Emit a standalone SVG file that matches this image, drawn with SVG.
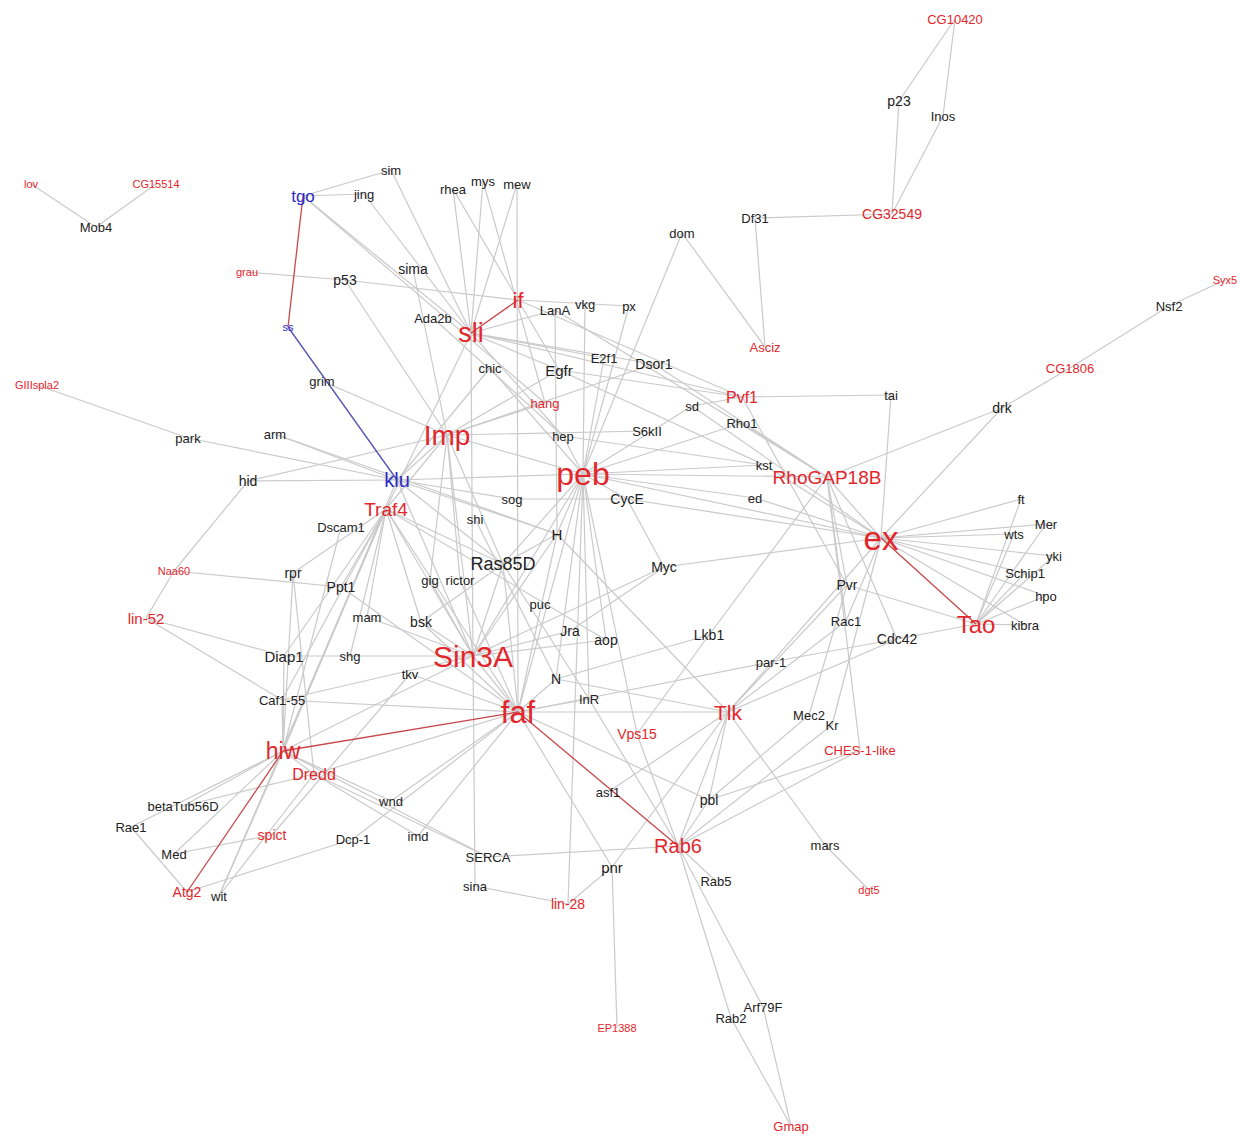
<svg xmlns="http://www.w3.org/2000/svg" width="1240" height="1136" viewBox="0 0 1240 1136">
<style>
.e{stroke:#cacaca;stroke-width:1.2;fill:none}
.er{stroke:#c8474a;stroke-width:1.3;fill:none}
.eb{stroke:#5353b0;stroke-width:1.3;fill:none}
text{font-family:"Liberation Sans",Arial,sans-serif;text-anchor:middle;dominant-baseline:central}
.k{fill:#222}.r{fill:#e3262b}.b{fill:#2a2ac6}
.f11{font-size:11px}.f13{font-size:13px}.f14{font-size:14px}.f15{font-size:15px}.f16{font-size:16px}.f17{font-size:17px}.f18{font-size:18px}.f19{font-size:19px}.f20{font-size:20px}.f21{font-size:21px}.f22{font-size:22px}.f23{font-size:23px}.f24{font-size:24px}.f27{font-size:27px}.f28{font-size:28px}.f30{font-size:30px}.f31{font-size:31px}.f32{font-size:32px}.f33{font-size:33px}
</style>
<rect width="1240" height="1136" fill="#fff"/>
<g id="edges">
<line class="e" x1="955" y1="19" x2="899" y2="101"/>
<line class="e" x1="955" y1="19" x2="943" y2="116"/>
<line class="e" x1="899" y1="101" x2="892" y2="214"/>
<line class="e" x1="943" y1="116" x2="892" y2="214"/>
<line class="e" x1="892" y1="214" x2="755" y2="218"/>
<line class="e" x1="755" y1="218" x2="765" y2="347"/>
<line class="e" x1="682" y1="233" x2="765" y2="347"/>
<line class="e" x1="682" y1="233" x2="583" y2="474"/>
<line class="e" x1="1225" y1="280" x2="1169" y2="306"/>
<line class="e" x1="1169" y1="306" x2="1070" y2="368"/>
<line class="e" x1="1070" y1="368" x2="1002" y2="408"/>
<line class="e" x1="1002" y1="408" x2="827" y2="477"/>
<line class="e" x1="1002" y1="408" x2="881" y2="538"/>
<line class="e" x1="891" y1="395" x2="742" y2="397"/>
<line class="e" x1="891" y1="395" x2="881" y2="538"/>
<line class="e" x1="31" y1="184" x2="96" y2="227"/>
<line class="e" x1="156" y1="184" x2="96" y2="227"/>
<line class="e" x1="303" y1="196" x2="391" y2="170"/>
<line class="e" x1="303" y1="196" x2="364" y2="194"/>
<line class="e" x1="303" y1="196" x2="471" y2="333"/>
<line class="e" x1="303" y1="196" x2="545" y2="403"/>
<line class="e" x1="391" y1="170" x2="471" y2="333"/>
<line class="e" x1="364" y1="194" x2="471" y2="333"/>
<line class="e" x1="247" y1="272" x2="345" y2="280"/>
<line class="e" x1="345" y1="280" x2="518" y2="300"/>
<line class="e" x1="518" y1="300" x2="629" y2="306"/>
<line class="e" x1="345" y1="280" x2="447" y2="435"/>
<line class="e" x1="413" y1="269" x2="447" y2="435"/>
<line class="e" x1="453" y1="189" x2="471" y2="333"/>
<line class="e" x1="453" y1="189" x2="559" y2="370"/>
<line class="e" x1="483" y1="181" x2="471" y2="333"/>
<line class="e" x1="483" y1="181" x2="545" y2="403"/>
<line class="e" x1="517" y1="184" x2="471" y2="333"/>
<line class="e" x1="517" y1="184" x2="518" y2="712"/>
<line class="e" x1="433" y1="318" x2="563" y2="436"/>
<line class="e" x1="518" y1="300" x2="742" y2="397"/>
<line class="e" x1="555" y1="310" x2="471" y2="333"/>
<line class="e" x1="555" y1="310" x2="827" y2="477"/>
<line class="e" x1="555" y1="310" x2="557" y2="534"/>
<line class="e" x1="585" y1="304" x2="583" y2="474"/>
<line class="e" x1="629" y1="306" x2="583" y2="474"/>
<line class="e" x1="471" y1="333" x2="559" y2="370"/>
<line class="e" x1="471" y1="333" x2="604" y2="358"/>
<line class="e" x1="471" y1="333" x2="742" y2="397"/>
<line class="e" x1="471" y1="333" x2="386" y2="509"/>
<line class="e" x1="471" y1="333" x2="473" y2="656"/>
<line class="e" x1="471" y1="333" x2="563" y2="436"/>
<line class="e" x1="471" y1="333" x2="654" y2="364"/>
<line class="e" x1="490" y1="368" x2="397" y2="480"/>
<line class="e" x1="490" y1="368" x2="583" y2="474"/>
<line class="e" x1="559" y1="370" x2="447" y2="435"/>
<line class="e" x1="559" y1="370" x2="742" y2="397"/>
<line class="e" x1="559" y1="370" x2="764" y2="465"/>
<line class="e" x1="604" y1="358" x2="583" y2="474"/>
<line class="e" x1="654" y1="364" x2="827" y2="477"/>
<line class="e" x1="654" y1="364" x2="447" y2="435"/>
<line class="e" x1="742" y1="397" x2="692" y2="406"/>
<line class="e" x1="742" y1="397" x2="847" y2="585"/>
<line class="e" x1="692" y1="406" x2="583" y2="474"/>
<line class="e" x1="692" y1="406" x2="881" y2="538"/>
<line class="e" x1="742" y1="423" x2="583" y2="474"/>
<line class="e" x1="742" y1="423" x2="827" y2="477"/>
<line class="e" x1="647" y1="431" x2="447" y2="435"/>
<line class="e" x1="447" y1="435" x2="545" y2="403"/>
<line class="e" x1="563" y1="436" x2="583" y2="474"/>
<line class="e" x1="563" y1="436" x2="764" y2="465"/>
<line class="e" x1="322" y1="381" x2="447" y2="435"/>
<line class="e" x1="37" y1="385" x2="188" y2="438"/>
<line class="e" x1="188" y1="438" x2="397" y2="480"/>
<line class="e" x1="275" y1="434" x2="397" y2="480"/>
<line class="e" x1="275" y1="434" x2="557" y2="534"/>
<line class="e" x1="248" y1="481" x2="397" y2="480"/>
<line class="e" x1="248" y1="481" x2="447" y2="435"/>
<line class="e" x1="248" y1="481" x2="174" y2="571"/>
<line class="e" x1="174" y1="571" x2="146" y2="618"/>
<line class="e" x1="174" y1="571" x2="341" y2="587"/>
<line class="e" x1="397" y1="480" x2="447" y2="435"/>
<line class="e" x1="397" y1="480" x2="583" y2="474"/>
<line class="e" x1="397" y1="480" x2="512" y2="499"/>
<line class="e" x1="397" y1="480" x2="503" y2="564"/>
<line class="e" x1="397" y1="480" x2="473" y2="656"/>
<line class="e" x1="397" y1="480" x2="283" y2="751"/>
<line class="e" x1="397" y1="480" x2="557" y2="534"/>
<line class="e" x1="447" y1="435" x2="583" y2="474"/>
<line class="e" x1="447" y1="435" x2="386" y2="509"/>
<line class="e" x1="447" y1="435" x2="473" y2="656"/>
<line class="e" x1="447" y1="435" x2="430" y2="580"/>
<line class="e" x1="447" y1="435" x2="460" y2="580"/>
<line class="e" x1="447" y1="435" x2="503" y2="564"/>
<line class="e" x1="583" y1="474" x2="764" y2="465"/>
<line class="e" x1="583" y1="474" x2="827" y2="477"/>
<line class="e" x1="583" y1="474" x2="881" y2="538"/>
<line class="e" x1="583" y1="474" x2="627" y2="499"/>
<line class="e" x1="583" y1="474" x2="557" y2="534"/>
<line class="e" x1="583" y1="474" x2="473" y2="656"/>
<line class="e" x1="583" y1="474" x2="518" y2="712"/>
<line class="e" x1="583" y1="474" x2="556" y2="679"/>
<line class="e" x1="583" y1="474" x2="568" y2="904"/>
<line class="e" x1="583" y1="474" x2="503" y2="564"/>
<line class="e" x1="583" y1="474" x2="589" y2="699"/>
<line class="e" x1="583" y1="474" x2="606" y2="640"/>
<line class="e" x1="755" y1="498" x2="881" y2="538"/>
<line class="e" x1="755" y1="498" x2="583" y2="474"/>
<line class="e" x1="627" y1="499" x2="881" y2="538"/>
<line class="e" x1="627" y1="499" x2="664" y2="567"/>
<line class="e" x1="512" y1="499" x2="627" y2="499"/>
<line class="e" x1="764" y1="465" x2="881" y2="538"/>
<line class="e" x1="827" y1="477" x2="881" y2="538"/>
<line class="e" x1="827" y1="477" x2="709" y2="635"/>
<line class="e" x1="827" y1="477" x2="847" y2="585"/>
<line class="e" x1="827" y1="477" x2="846" y2="621"/>
<line class="e" x1="827" y1="477" x2="897" y2="639"/>
<line class="e" x1="827" y1="477" x2="860" y2="750"/>
<line class="e" x1="881" y1="538" x2="1021" y2="499"/>
<line class="e" x1="881" y1="538" x2="1046" y2="524"/>
<line class="e" x1="881" y1="538" x2="1014" y2="534"/>
<line class="e" x1="881" y1="538" x2="1054" y2="556"/>
<line class="e" x1="881" y1="538" x2="1025" y2="573"/>
<line class="e" x1="881" y1="538" x2="1046" y2="596"/>
<line class="e" x1="881" y1="538" x2="1025" y2="625"/>
<line class="e" x1="976" y1="624" x2="1021" y2="499"/>
<line class="e" x1="976" y1="624" x2="1046" y2="524"/>
<line class="e" x1="976" y1="624" x2="1014" y2="534"/>
<line class="e" x1="976" y1="624" x2="1054" y2="556"/>
<line class="e" x1="976" y1="624" x2="1025" y2="573"/>
<line class="e" x1="976" y1="624" x2="1046" y2="596"/>
<line class="e" x1="976" y1="624" x2="1025" y2="625"/>
<line class="e" x1="881" y1="538" x2="664" y2="567"/>
<line class="e" x1="881" y1="538" x2="846" y2="621"/>
<line class="e" x1="881" y1="538" x2="728" y2="712"/>
<line class="e" x1="881" y1="538" x2="832" y2="725"/>
<line class="e" x1="847" y1="585" x2="976" y2="624"/>
<line class="e" x1="897" y1="639" x2="976" y2="624"/>
<line class="e" x1="847" y1="585" x2="728" y2="712"/>
<line class="e" x1="846" y1="621" x2="728" y2="712"/>
<line class="e" x1="897" y1="639" x2="728" y2="712"/>
<line class="e" x1="518" y1="712" x2="771" y2="662"/>
<line class="e" x1="771" y1="662" x2="897" y2="639"/>
<line class="e" x1="809" y1="715" x2="847" y2="585"/>
<line class="e" x1="809" y1="715" x2="709" y2="800"/>
<line class="e" x1="832" y1="725" x2="678" y2="846"/>
<line class="e" x1="860" y1="750" x2="709" y2="800"/>
<line class="e" x1="386" y1="509" x2="341" y2="587"/>
<line class="e" x1="386" y1="509" x2="367" y2="617"/>
<line class="e" x1="386" y1="509" x2="350" y2="656"/>
<line class="e" x1="386" y1="509" x2="421" y2="622"/>
<line class="e" x1="386" y1="509" x2="284" y2="656"/>
<line class="e" x1="386" y1="509" x2="282" y2="700"/>
<line class="e" x1="386" y1="509" x2="283" y2="751"/>
<line class="e" x1="386" y1="509" x2="473" y2="656"/>
<line class="e" x1="386" y1="509" x2="518" y2="712"/>
<line class="e" x1="386" y1="509" x2="293" y2="573"/>
<line class="e" x1="386" y1="509" x2="503" y2="564"/>
<line class="e" x1="386" y1="509" x2="606" y2="640"/>
<line class="e" x1="341" y1="527" x2="283" y2="751"/>
<line class="e" x1="293" y1="573" x2="314" y2="774"/>
<line class="e" x1="341" y1="587" x2="518" y2="712"/>
<line class="e" x1="367" y1="617" x2="473" y2="656"/>
<line class="e" x1="284" y1="656" x2="473" y2="656"/>
<line class="e" x1="421" y1="622" x2="518" y2="712"/>
<line class="e" x1="421" y1="622" x2="503" y2="564"/>
<line class="e" x1="430" y1="580" x2="473" y2="656"/>
<line class="e" x1="460" y1="580" x2="518" y2="712"/>
<line class="e" x1="503" y1="564" x2="473" y2="656"/>
<line class="e" x1="503" y1="564" x2="518" y2="712"/>
<line class="e" x1="503" y1="564" x2="557" y2="534"/>
<line class="e" x1="503" y1="564" x2="589" y2="699"/>
<line class="e" x1="557" y1="534" x2="473" y2="656"/>
<line class="e" x1="557" y1="534" x2="728" y2="712"/>
<line class="e" x1="557" y1="534" x2="518" y2="712"/>
<line class="e" x1="475" y1="519" x2="556" y2="679"/>
<line class="e" x1="570" y1="631" x2="473" y2="656"/>
<line class="e" x1="570" y1="631" x2="664" y2="567"/>
<line class="e" x1="606" y1="640" x2="473" y2="656"/>
<line class="e" x1="556" y1="679" x2="518" y2="712"/>
<line class="e" x1="556" y1="679" x2="728" y2="712"/>
<line class="e" x1="556" y1="679" x2="709" y2="635"/>
<line class="e" x1="589" y1="699" x2="518" y2="712"/>
<line class="e" x1="589" y1="699" x2="678" y2="846"/>
<line class="e" x1="518" y1="712" x2="473" y2="656"/>
<line class="e" x1="518" y1="712" x2="728" y2="712"/>
<line class="e" x1="518" y1="712" x2="391" y2="801"/>
<line class="e" x1="518" y1="712" x2="418" y2="836"/>
<line class="e" x1="518" y1="712" x2="353" y2="839"/>
<line class="e" x1="518" y1="712" x2="314" y2="774"/>
<line class="e" x1="518" y1="712" x2="612" y2="867"/>
<line class="e" x1="518" y1="712" x2="709" y2="800"/>
<line class="e" x1="518" y1="712" x2="282" y2="700"/>
<line class="e" x1="518" y1="712" x2="410" y2="674"/>
<line class="e" x1="473" y1="656" x2="283" y2="751"/>
<line class="e" x1="473" y1="656" x2="282" y2="700"/>
<line class="e" x1="473" y1="656" x2="475" y2="886"/>
<line class="e" x1="473" y1="656" x2="421" y2="622"/>
<line class="e" x1="473" y1="656" x2="664" y2="567"/>
<line class="e" x1="709" y1="635" x2="637" y2="734"/>
<line class="e" x1="728" y1="712" x2="825" y2="845"/>
<line class="e" x1="825" y1="845" x2="869" y2="890"/>
<line class="e" x1="728" y1="712" x2="608" y2="792"/>
<line class="e" x1="728" y1="712" x2="709" y2="800"/>
<line class="e" x1="728" y1="712" x2="612" y2="867"/>
<line class="e" x1="728" y1="712" x2="678" y2="846"/>
<line class="e" x1="637" y1="734" x2="678" y2="846"/>
<line class="e" x1="637" y1="734" x2="583" y2="474"/>
<line class="e" x1="678" y1="846" x2="488" y2="857"/>
<line class="e" x1="678" y1="846" x2="716" y2="881"/>
<line class="e" x1="678" y1="846" x2="731" y2="1018"/>
<line class="e" x1="678" y1="846" x2="763" y2="1007"/>
<line class="e" x1="678" y1="846" x2="709" y2="800"/>
<line class="e" x1="678" y1="846" x2="860" y2="750"/>
<line class="e" x1="731" y1="1018" x2="791" y2="1126"/>
<line class="e" x1="763" y1="1007" x2="791" y2="1126"/>
<line class="e" x1="612" y1="867" x2="617" y2="1028"/>
<line class="e" x1="612" y1="867" x2="568" y2="904"/>
<line class="e" x1="475" y1="886" x2="568" y2="904"/>
<line class="e" x1="283" y1="751" x2="183" y2="806"/>
<line class="e" x1="283" y1="751" x2="131" y2="827"/>
<line class="e" x1="283" y1="751" x2="174" y2="854"/>
<line class="e" x1="283" y1="751" x2="219" y2="896"/>
<line class="e" x1="283" y1="751" x2="314" y2="774"/>
<line class="e" x1="283" y1="751" x2="391" y2="801"/>
<line class="e" x1="283" y1="751" x2="282" y2="700"/>
<line class="e" x1="283" y1="751" x2="284" y2="656"/>
<line class="e" x1="283" y1="751" x2="293" y2="573"/>
<line class="e" x1="283" y1="751" x2="488" y2="857"/>
<line class="e" x1="314" y1="774" x2="183" y2="806"/>
<line class="e" x1="314" y1="774" x2="418" y2="836"/>
<line class="e" x1="314" y1="774" x2="488" y2="857"/>
<line class="e" x1="131" y1="827" x2="187" y2="892"/>
<line class="e" x1="187" y1="892" x2="353" y2="839"/>
<line class="e" x1="174" y1="854" x2="272" y2="835"/>
<line class="e" x1="272" y1="835" x2="410" y2="674"/>
<line class="e" x1="219" y1="896" x2="314" y2="774"/>
<line class="e" x1="219" y1="896" x2="386" y2="509"/>
<line class="e" x1="146" y1="618" x2="284" y2="656"/>
<line class="e" x1="146" y1="618" x2="282" y2="700"/>
<line class="er" x1="303" y1="196" x2="288" y2="327"/>
<line class="er" x1="471" y1="333" x2="518" y2="300"/>
<line class="er" x1="881" y1="538" x2="976" y2="624"/>
<line class="er" x1="518" y1="712" x2="283" y2="751"/>
<line class="er" x1="518" y1="712" x2="678" y2="846"/>
<line class="er" x1="283" y1="751" x2="187" y2="892"/>
<line class="eb" x1="288" y1="327" x2="397" y2="480"/>
</g>
<g id="n-CG10420"><text class="r f13" x="955" y="19">CG10420</text></g>
<g id="n-p23"><text class="k f14" x="899" y="101">p23</text></g>
<g id="n-Inos"><text class="k f13" x="943" y="116">Inos</text></g>
<g id="n-CG32549"><text class="r f14" x="892" y="214">CG32549</text></g>
<g id="n-Df31"><text class="k f13" x="755" y="218">Df31</text></g>
<g id="n-dom"><text class="k f13" x="682" y="233">dom</text></g>
<g id="n-Asciz"><text class="r f13" x="765" y="347">Asciz</text></g>
<g id="n-Syx5"><text class="r f11" x="1225" y="280">Syx5</text></g>
<g id="n-Nsf2"><text class="k f13" x="1169" y="306">Nsf2</text></g>
<g id="n-CG1806"><text class="r f13" x="1070" y="368">CG1806</text></g>
<g id="n-drk"><text class="k f14" x="1002" y="408">drk</text></g>
<g id="n-tai"><text class="k f13" x="891" y="395">tai</text></g>
<g id="n-lov"><text class="r f11" x="31" y="184">lov</text></g>
<g id="n-CG15514"><text class="r f11" x="156" y="184">CG15514</text></g>
<g id="n-Mob4"><text class="k f13" x="96" y="227">Mob4</text></g>
<g id="n-tgo"><text class="b f17" x="303" y="196">tgo</text></g>
<g id="n-sim"><text class="k f13" x="391" y="170">sim</text></g>
<g id="n-jing"><text class="k f13" x="364" y="194">jing</text></g>
<g id="n-rhea"><text class="k f13" x="453" y="189">rhea</text></g>
<g id="n-mys"><text class="k f13" x="483" y="181">mys</text></g>
<g id="n-mew"><text class="k f13" x="517" y="184">mew</text></g>
<g id="n-grau"><text class="r f11" x="247" y="272">grau</text></g>
<g id="n-p53"><text class="k f14" x="345" y="280">p53</text></g>
<g id="n-sima"><text class="k f14" x="413" y="269">sima</text></g>
<g id="n-ss"><text class="b f11" x="288" y="327">ss</text></g>
<g id="n-if"><text class="r f22" x="518" y="300">if</text></g>
<g id="n-LanA"><text class="k f13" x="555" y="310">LanA</text></g>
<g id="n-vkg"><text class="k f13" x="585" y="304">vkg</text></g>
<g id="n-px"><text class="k f13" x="629" y="306">px</text></g>
<g id="n-Ada2b"><text class="k f13" x="433" y="318">Ada2b</text></g>
<g id="n-sli"><text class="r f27" x="471" y="333">sli</text></g>
<g id="n-chic"><text class="k f13" x="490" y="368">chic</text></g>
<g id="n-Egfr"><text class="k f15" x="559" y="370">Egfr</text></g>
<g id="n-E2f1"><text class="k f13" x="604" y="358">E2f1</text></g>
<g id="n-Dsor1"><text class="k f14" x="654" y="364">Dsor1</text></g>
<g id="n-Pvf1"><text class="r f16" x="742" y="397">Pvf1</text></g>
<g id="n-sd"><text class="k f13" x="692" y="406">sd</text></g>
<g id="n-Rho1"><text class="k f13" x="742" y="423">Rho1</text></g>
<g id="n-S6kII"><text class="k f13" x="647" y="431">S6kII</text></g>
<g id="n-hang"><text class="r f13" x="545" y="403">hang</text></g>
<g id="n-hep"><text class="k f13" x="563" y="436">hep</text></g>
<g id="n-grim"><text class="k f13" x="322" y="381">grim</text></g>
<g id="n-GIIIspla2"><text class="r f11" x="37" y="385">GIIIspla2</text></g>
<g id="n-park"><text class="k f13" x="188" y="438">park</text></g>
<g id="n-arm"><text class="k f13" x="275" y="434">arm</text></g>
<g id="n-Imp"><text class="r f28" x="447" y="435">Imp</text></g>
<g id="n-hid"><text class="k f14" x="248" y="481">hid</text></g>
<g id="n-klu"><text class="b f20" x="397" y="480">klu</text></g>
<g id="n-peb"><text class="r f32" x="583" y="474">peb</text></g>
<g id="n-kst"><text class="k f13" x="764" y="465">kst</text></g>
<g id="n-RhoGAP18B"><text class="r f19" x="827" y="477">RhoGAP18B</text></g>
<g id="n-ed"><text class="k f13" x="755" y="498">ed</text></g>
<g id="n-CycE"><text class="k f14" x="627" y="499">CycE</text></g>
<g id="n-ex"><text class="r f33" x="881" y="538">ex</text></g>
<g id="n-Traf4"><text class="r f19" x="386" y="509">Traf4</text></g>
<g id="n-sog"><text class="k f13" x="512" y="499">sog</text></g>
<g id="n-shi"><text class="k f13" x="475" y="519">shi</text></g>
<g id="n-H"><text class="k f15" x="557" y="534">H</text></g>
<g id="n-Dscam1"><text class="k f13" x="341" y="527">Dscam1</text></g>
<g id="n-ft"><text class="k f13" x="1021" y="499">ft</text></g>
<g id="n-Mer"><text class="k f13" x="1046" y="524">Mer</text></g>
<g id="n-wts"><text class="k f13" x="1014" y="534">wts</text></g>
<g id="n-yki"><text class="k f13" x="1054" y="556">yki</text></g>
<g id="n-Schip1"><text class="k f13" x="1025" y="573">Schip1</text></g>
<g id="n-hpo"><text class="k f13" x="1046" y="596">hpo</text></g>
<g id="n-kibra"><text class="k f13" x="1025" y="625">kibra</text></g>
<g id="n-Tao"><text class="r f24" x="976" y="624">Tao</text></g>
<g id="n-Ras85D"><text class="k f18" x="503" y="564">Ras85D</text></g>
<g id="n-Myc"><text class="k f14" x="664" y="567">Myc</text></g>
<g id="n-Naa60"><text class="r f11" x="174" y="571">Naa60</text></g>
<g id="n-rpr"><text class="k f14" x="293" y="573">rpr</text></g>
<g id="n-Ppt1"><text class="k f14" x="341" y="587">Ppt1</text></g>
<g id="n-gig"><text class="k f13" x="430" y="580">gig</text></g>
<g id="n-rictor"><text class="k f13" x="460" y="580">rictor</text></g>
<g id="n-Pvr"><text class="k f14" x="847" y="585">Pvr</text></g>
<g id="n-puc"><text class="k f13" x="540" y="604">puc</text></g>
<g id="n-lin-52"><text class="r f15" x="146" y="618">lin-52</text></g>
<g id="n-mam"><text class="k f13" x="367" y="617">mam</text></g>
<g id="n-bsk"><text class="k f14" x="421" y="622">bsk</text></g>
<g id="n-Rac1"><text class="k f13" x="846" y="621">Rac1</text></g>
<g id="n-Cdc42"><text class="k f14" x="897" y="639">Cdc42</text></g>
<g id="n-Jra"><text class="k f14" x="570" y="631">Jra</text></g>
<g id="n-aop"><text class="k f14" x="606" y="640">aop</text></g>
<g id="n-Lkb1"><text class="k f14" x="709" y="635">Lkb1</text></g>
<g id="n-Diap1"><text class="k f15" x="284" y="656">Diap1</text></g>
<g id="n-shg"><text class="k f13" x="350" y="656">shg</text></g>
<g id="n-Sin3A"><text class="r f30" x="473" y="656">Sin3A</text></g>
<g id="n-par-1"><text class="k f13" x="771" y="662">par-1</text></g>
<g id="n-tkv"><text class="k f13" x="410" y="674">tkv</text></g>
<g id="n-N"><text class="k f14" x="556" y="679">N</text></g>
<g id="n-InR"><text class="k f13" x="589" y="699">InR</text></g>
<g id="n-Caf1-55"><text class="k f13" x="282" y="700">Caf1-55</text></g>
<g id="n-faf"><text class="r f31" x="518" y="712">faf</text></g>
<g id="n-Tlk"><text class="r f21" x="728" y="712">Tlk</text></g>
<g id="n-Mec2"><text class="k f13" x="809" y="715">Mec2</text></g>
<g id="n-Kr"><text class="k f13" x="832" y="725">Kr</text></g>
<g id="n-Vps15"><text class="r f14" x="637" y="734">Vps15</text></g>
<g id="n-CHES-1-like"><text class="r f13" x="860" y="750">CHES-1-like</text></g>
<g id="n-hiw"><text class="r f23" x="283" y="751">hiw</text></g>
<g id="n-Dredd"><text class="r f16" x="314" y="774">Dredd</text></g>
<g id="n-betaTub56D"><text class="k f13" x="183" y="806">betaTub56D</text></g>
<g id="n-wnd"><text class="k f13" x="391" y="801">wnd</text></g>
<g id="n-asf1"><text class="k f13" x="608" y="792">asf1</text></g>
<g id="n-pbl"><text class="k f14" x="709" y="800">pbl</text></g>
<g id="n-Rae1"><text class="k f13" x="131" y="827">Rae1</text></g>
<g id="n-spict"><text class="r f14" x="272" y="835">spict</text></g>
<g id="n-Dcp-1"><text class="k f13" x="353" y="839">Dcp-1</text></g>
<g id="n-imd"><text class="k f13" x="418" y="836">imd</text></g>
<g id="n-Med"><text class="k f13" x="174" y="854">Med</text></g>
<g id="n-SERCA"><text class="k f13" x="488" y="857">SERCA</text></g>
<g id="n-Rab6"><text class="r f20" x="678" y="846">Rab6</text></g>
<g id="n-mars"><text class="k f13" x="825" y="845">mars</text></g>
<g id="n-pnr"><text class="k f15" x="612" y="867">pnr</text></g>
<g id="n-Rab5"><text class="k f13" x="716" y="881">Rab5</text></g>
<g id="n-sina"><text class="k f13" x="475" y="886">sina</text></g>
<g id="n-lin-28"><text class="r f14" x="568" y="904">lin-28</text></g>
<g id="n-Atg2"><text class="r f14" x="187" y="892">Atg2</text></g>
<g id="n-wit"><text class="k f13" x="219" y="896">wit</text></g>
<g id="n-dgt5"><text class="r f11" x="869" y="890">dgt5</text></g>
<g id="n-EP1388"><text class="r f11" x="617" y="1028">EP1388</text></g>
<g id="n-Arf79F"><text class="k f13" x="763" y="1007">Arf79F</text></g>
<g id="n-Rab2"><text class="k f13" x="731" y="1018">Rab2</text></g>
<g id="n-Gmap"><text class="r f13" x="791" y="1126">Gmap</text></g>
</svg>
